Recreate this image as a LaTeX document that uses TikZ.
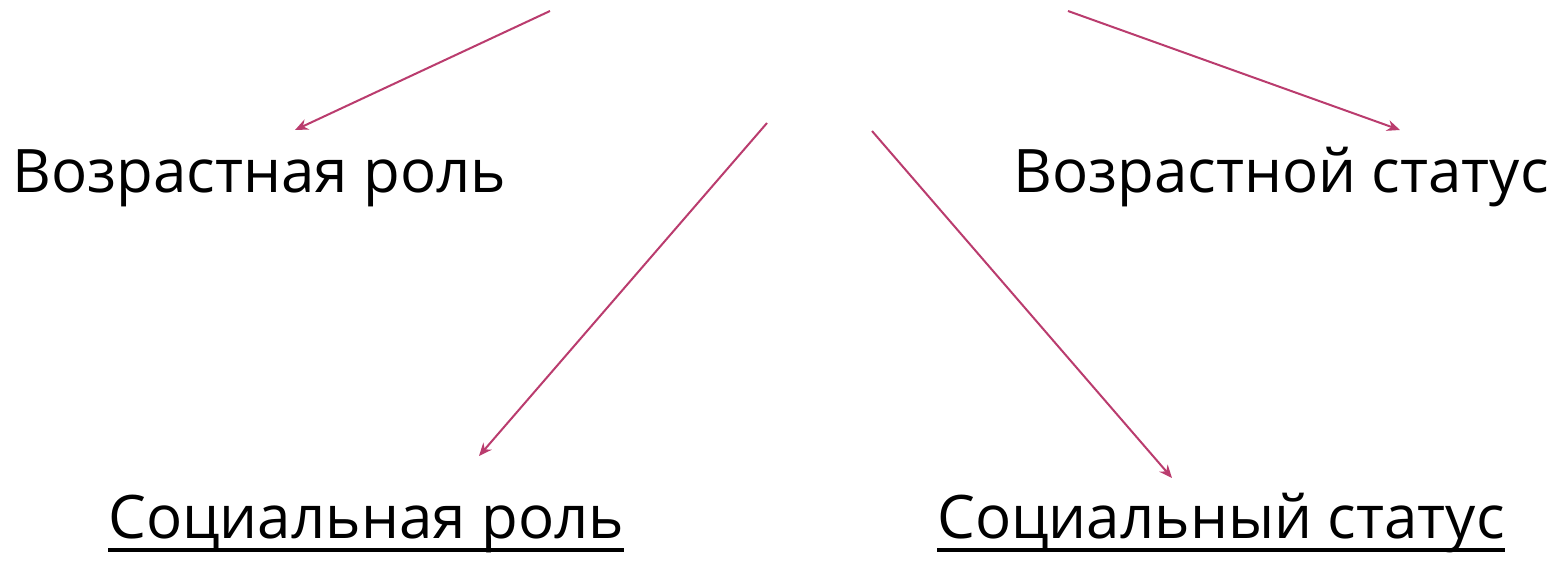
\documentclass[tikz,border=0pt]{standalone}
\usepackage{fontspec}
\setmainfont{Open Sans}
\usetikzlibrary{arrows.meta}
\definecolor{arr}{RGB}{186,60,110}
\tikzset{
  lbl/.style={anchor=base west, inner sep=0pt, font=\fontsize{60}{60}\selectfont},
  con/.style={draw=arr, line width=2pt, -{Stealth[length=13pt,width=11pt]}},
  ul/.style={line width=3.5pt, black}
}
\begin{document}
\begin{tikzpicture}[x=1pt,y=-1pt]
\useasboundingbox (0,0) rectangle (1558,561);
\node[lbl] (vr) at (12,193) {Возрастная роль};
\node[lbl] (vs) at (1013,193) {Возрастной статус};
\node[lbl] (sr) at (108,538) {Социальная роль};
\node[lbl] (ss) at (937,538) {Социальный статус};
\draw[ul] ([yshift=-12pt]sr.base west) -- ([yshift=-12pt]sr.base east);
\draw[ul] ([yshift=-12pt]ss.base west) -- ([yshift=-12pt]ss.base east);
\coordinate (a1) at (550,11);
\coordinate (a2) at (1068,11);
\coordinate (a3) at (767,123);
\coordinate (a4) at (872,131);
\coordinate (b1) at (295,130);
\coordinate (b2) at (1400,130);
\coordinate (b3) at (479,456);
\coordinate (b4) at (1172,478);
\draw[con] (a1) -- (b1);
\draw[con] (a2) -- (b2);
\draw[con] (a3) -- (b3);
\draw[con] (a4) -- (b4);
\end{tikzpicture}
\end{document}
